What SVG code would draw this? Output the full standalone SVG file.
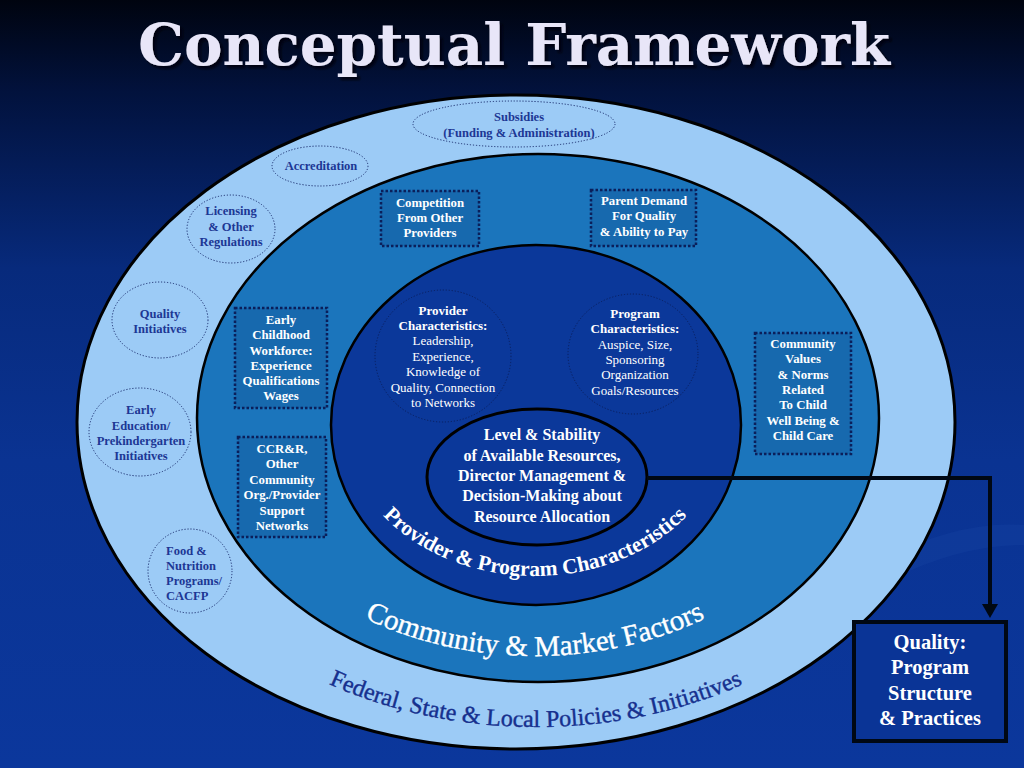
<svg xmlns="http://www.w3.org/2000/svg" width="1024" height="768" viewBox="0 0 1024 768">
<defs>
  <linearGradient id="bg" x1="0" y1="0" x2="0" y2="1">
    <stop offset="0" stop-color="#00040f"/>
    <stop offset="0.12" stop-color="#02123d"/>
    <stop offset="0.35" stop-color="#072a7c"/>
    <stop offset="0.6" stop-color="#0a3392"/>
    <stop offset="1" stop-color="#0b379c"/>
  </linearGradient>
  <filter id="shadow" x="-5%" y="-20%" width="110%" height="150%">
    <feDropShadow dx="3" dy="3" stdDeviation="1" flood-color="#000010" flood-opacity="0.9"/>
  </filter>
  <marker id="arrow" viewBox="0 -8 14 16" refX="0" refY="0" markerUnits="userSpaceOnUse" markerWidth="14" markerHeight="16" orient="auto">
    <path d="M0,-8 L14,0 L0,8 z" fill="#000814"/>
  </marker>
  <path id="arcProv" d="M345,425 A190,151 0 0 0 725,425"/>
  <path id="arcComm" d="M220,418 A315,238 0 0 0 850,418"/>
  <path id="arcFed" d="M131,422 A405,305 0 0 0 941,422"/>
  <style>
    .ol{font-family:"Liberation Serif","Times New Roman",serif;font-weight:bold;font-size:12.5px;fill:#1d3794;text-anchor:middle;}
    .olL{font-family:"Liberation Serif","Times New Roman",serif;font-weight:bold;font-size:12.5px;fill:#1d3794;}
    .oell{fill:none;stroke:#1a2d6e;stroke-width:1;stroke-dasharray:1.2 1.8;}
    .box{fill:#1769ae;stroke:#0b1f5a;stroke-width:2.5;stroke-dasharray:2.5 2;}
    .bt{font-family:"Liberation Serif","Times New Roman",serif;font-weight:bold;font-size:12.8px;fill:#ffffff;text-anchor:middle;}
    .ic{fill:none;stroke:#0a1f5e;stroke-width:1;stroke-dasharray:1.2 1.8;}
    .it{font-family:"Liberation Serif","Times New Roman",serif;font-size:13px;fill:#ffffff;text-anchor:middle;}
    .itb{font-weight:bold;}
    .ct{font-family:"Liberation Serif","Times New Roman",serif;font-weight:bold;font-size:16px;fill:#ffffff;text-anchor:middle;}
    .qt{font-family:"Liberation Serif","Times New Roman",serif;font-weight:bold;font-size:20.5px;fill:#ffffff;text-anchor:middle;}
  </style>
</defs>

<rect x="0" y="0" width="1024" height="768" fill="url(#bg)"/>
<path d="M880,560 Q960,520 1024,525 L1024,545 Q960,545 890,580 z" fill="#2a55b8" opacity="0.15"/>

<text x="514" y="65" font-family="'DejaVu Serif','Liberation Serif',serif" font-weight="bold" font-size="58" fill="#e8e6f8" text-anchor="middle" textLength="752" lengthAdjust="spacingAndGlyphs" filter="url(#shadow)">Conceptual Framework</text>

<g id="ring-policies">
  <ellipse cx="516" cy="422" rx="439" ry="327" fill="#9ccbf6" stroke="#000" stroke-width="3"/>
</g>
<g id="ring-community">
  <ellipse cx="538" cy="418" rx="341" ry="264" fill="#1b75bc" stroke="#000" stroke-width="2.5"/>
</g>
<g id="ring-provider">
  <ellipse cx="536" cy="425" rx="205" ry="180" fill="#0b389a" stroke="#000" stroke-width="2.5"/>
</g>

<g id="subsidies">
  <ellipse class="oell" cx="514" cy="124" rx="101" ry="23"/>
  <text class="ol" x="519" y="121">Subsidies</text>
  <text class="ol" x="519" y="137">(Funding &amp; Administration)</text>
</g>
<g id="accreditation">
  <ellipse class="oell" cx="320" cy="166" rx="48" ry="20"/>
  <text class="ol" x="321" y="170">Accreditation</text>
</g>
<g id="licensing">
  <ellipse class="oell" cx="231" cy="229" rx="44" ry="34"/>
  <text class="ol" x="231" y="215">Licensing</text>
  <text class="ol" x="231" y="231">&amp; Other</text>
  <text class="ol" x="231" y="246">Regulations</text>
</g>
<g id="quality-initiatives">
  <ellipse class="oell" cx="160" cy="320" rx="48" ry="38"/>
  <text class="ol" x="160" y="318">Quality</text>
  <text class="ol" x="160" y="333">Initiatives</text>
</g>
<g id="early-education">
  <ellipse class="oell" cx="140" cy="432" rx="51" ry="44"/>
  <text class="ol" x="141" y="414">Early</text>
  <text class="ol" x="141" y="430">Education/</text>
  <text class="ol" x="141" y="445">Prekindergarten</text>
  <text class="ol" x="141" y="460">Initiatives</text>
</g>
<g id="food">
  <ellipse class="oell" cx="190" cy="571" rx="42" ry="42"/>
  <text class="olL" x="166" y="555">Food &amp;</text>
  <text class="olL" x="166" y="570">Nutrition</text>
  <text class="olL" x="166" y="585">Programs/</text>
  <text class="olL" x="166" y="600">CACFP</text>
</g>

<g id="competition">
  <rect class="box" x="381" y="191" width="98" height="55"/>
  <text class="bt" x="430" y="207">Competition</text>
  <text class="bt" x="430" y="222">From Other</text>
  <text class="bt" x="430" y="237">Providers</text>
</g>
<g id="parent-demand">
  <rect class="box" x="591" y="190" width="105" height="56"/>
  <text class="bt" x="644" y="205">Parent Demand</text>
  <text class="bt" x="644" y="220">For Quality</text>
  <text class="bt" x="644" y="236">&amp; Ability to Pay</text>
</g>
<g id="workforce">
  <rect class="box" x="235" y="308" width="92" height="100"/>
  <text class="bt" x="281" y="324">Early</text>
  <text class="bt" x="281" y="339">Childhood</text>
  <text class="bt" x="281" y="355">Workforce:</text>
  <text class="bt" x="281" y="370">Experience</text>
  <text class="bt" x="281" y="385">Qualifications</text>
  <text class="bt" x="281" y="400">Wages</text>
</g>
<g id="ccrr">
  <rect class="box" x="238" y="437" width="88" height="100"/>
  <text class="bt" x="282" y="453">CCR&amp;R,</text>
  <text class="bt" x="282" y="468">Other</text>
  <text class="bt" x="282" y="484">Community</text>
  <text class="bt" x="282" y="499">Org./Provider</text>
  <text class="bt" x="282" y="515">Support</text>
  <text class="bt" x="282" y="530">Networks</text>
</g>
<g id="community-values">
  <rect class="box" x="755" y="333" width="96" height="121"/>
  <text class="bt" x="803" y="348">Community</text>
  <text class="bt" x="803" y="363">Values</text>
  <text class="bt" x="803" y="379">&amp; Norms</text>
  <text class="bt" x="803" y="394">Related</text>
  <text class="bt" x="803" y="409">To Child</text>
  <text class="bt" x="803" y="425">Well Being &amp;</text>
  <text class="bt" x="803" y="440">Child Care</text>
</g>

<g id="provider-characteristics">
  <ellipse class="ic" cx="443" cy="356" rx="68" ry="66"/>
  <text class="it itb" x="443" y="315">Provider</text>
  <text class="it itb" x="443" y="330">Characteristics:</text>
  <text class="it" x="443" y="345">Leadership,</text>
  <text class="it" x="443" y="361">Experience,</text>
  <text class="it" x="443" y="376">Knowledge of</text>
  <text class="it" x="443" y="392">Quality, Connection</text>
  <text class="it" x="443" y="407">to Networks</text>
</g>
<g id="program-characteristics">
  <ellipse class="ic" cx="633" cy="354" rx="65" ry="60"/>
  <text class="it itb" x="635" y="318">Program</text>
  <text class="it itb" x="635" y="333">Characteristics:</text>
  <text class="it" x="635" y="349">Auspice, Size,</text>
  <text class="it" x="635" y="364">Sponsoring</text>
  <text class="it" x="635" y="379">Organization</text>
  <text class="it" x="635" y="395">Goals/Resources</text>
</g>
<g id="resources">
  <ellipse cx="537" cy="477" rx="110" ry="68" fill="#0b389a" stroke="#000" stroke-width="3"/>
  <text class="ct" x="542" y="440">Level &amp; Stability</text>
  <text class="ct" x="542" y="461">of Available Resources,</text>
  <text class="ct" x="542" y="481">Director Management &amp;</text>
  <text class="ct" x="542" y="501">Decision-Making about</text>
  <text class="ct" x="542" y="522">Resource Allocation</text>
</g>

<g id="ring-labels">
  <text font-family="'Liberation Serif','Times New Roman',serif" font-weight="bold" font-size="21.5" fill="#ffffff" text-anchor="middle"><textPath href="#arcProv" startOffset="50%">Provider &amp; Program Characteristics</textPath></text>
  <text font-family="'Liberation Serif','Times New Roman',serif" font-size="29" fill="#ffffff" stroke="#ffffff" stroke-width="0.4" text-anchor="middle"><textPath href="#arcComm" startOffset="50%">Community &amp; Market Factors</textPath></text>
  <text font-family="'Liberation Serif','Times New Roman',serif" font-size="24" fill="#16308e" stroke="#16308e" stroke-width="0.4" text-anchor="middle"><textPath href="#arcFed" startOffset="50%">Federal, State &amp; Local Policies &amp; Initiatives</textPath></text>
</g>

<g id="connectors">
  <path d="M647,478 H990 V604" fill="none" stroke="#000814" stroke-width="4" marker-end="url(#arrow)"/>
</g>

<g id="quality">
  <rect x="854" y="622" width="152" height="119" fill="#0a3496" stroke="#000814" stroke-width="4"/>
  <text class="qt" x="930" y="649">Quality:</text>
  <text class="qt" x="930" y="674">Program</text>
  <text class="qt" x="930" y="700">Structure</text>
  <text class="qt" x="930" y="725">&amp; Practices</text>
</g>
</svg>
